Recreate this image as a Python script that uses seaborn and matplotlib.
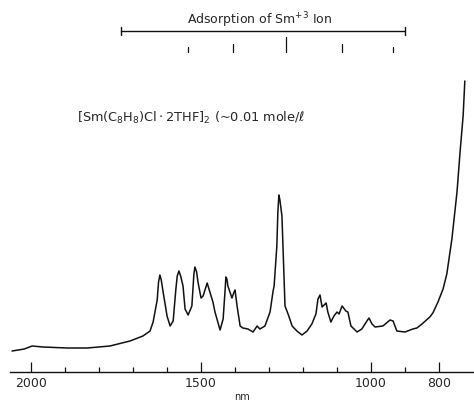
import matplotlib
matplotlib.use("Agg")
import matplotlib.pyplot as plt
import seaborn as sns
import numpy as np
import pandas as pd

# spectrum (wavelength nm, absorbance in arbitrary units)
wavelength = [2056, 2020, 1997, 1965, 1894, 1835, 1768, 1709, 1671, 1650,
              1641, 1629, 1625, 1621, 1617, 1612, 1600, 1591, 1582, 1574,
              1570, 1565, 1560, 1553, 1547, 1538, 1527, 1521, 1518, 1513,
              1509, 1500, 1494, 1482, 1474, 1465, 1459, 1444, 1435, 1429,
              1427, 1424, 1421, 1409, 1403, 1400, 1394, 1385, 1377, 1362,
              1347, 1335, 1327, 1312, 1297, 1288, 1285, 1277, 1274, 1271,
              1268, 1262, 1259, 1253, 1244, 1232, 1218, 1203, 1188, 1174,
              1162, 1156, 1150, 1144, 1132, 1127, 1118, 1109, 1100, 1094,
              1085, 1074, 1068, 1059, 1041, 1027, 1012, 1006, 997, 988,
              965, 944, 935, 924, 900, 877, 865, 850, 827, 818,
              803, 788, 777, 762, 747, 738, 729, 724]
absorbance = [0.21, 0.23, 0.26, 0.25, 0.24, 0.24, 0.26, 0.31, 0.36, 0.41,
              0.50, 0.72, 0.90, 0.97, 0.92, 0.81, 0.56, 0.46, 0.51, 0.83,
              0.96, 1.01, 0.96, 0.86, 0.63, 0.57, 0.66, 0.98, 1.05, 1.00,
              0.90, 0.74, 0.76, 0.89, 0.80, 0.70, 0.60, 0.42, 0.53, 0.83,
              0.95, 0.93, 0.86, 0.74, 0.80, 0.82, 0.66, 0.46, 0.44, 0.43,
              0.40, 0.46, 0.43, 0.46, 0.60, 0.81, 0.86, 1.26, 1.60, 1.77,
              1.72, 1.56, 1.26, 0.66, 0.58, 0.46, 0.41, 0.37, 0.41, 0.48,
              0.58, 0.73, 0.77, 0.65, 0.69, 0.60, 0.50, 0.56, 0.60, 0.58,
              0.66, 0.61, 0.60, 0.46, 0.40, 0.43, 0.51, 0.54, 0.48, 0.45,
              0.46, 0.52, 0.51, 0.41, 0.40, 0.43, 0.44, 0.48, 0.55, 0.59,
              0.70, 0.83, 0.98, 1.33, 1.80, 2.20, 2.56, 2.91]

# Sm+3 absorption markers at the top
sm_range = [1735, 900]
sm_bands = [1538, 1406, 1250, 1085, 935]
sm_band_len = [0.05, 0.08, 0.15, 0.08, 0.05]

major_ticks = [2000, 1500, 1000, 800]
minor_ticks = [1900, 1800, 1700, 1600, 1400, 1300, 1200, 1100, 900]

df = pd.DataFrame({"nm": wavelength, "A": absorbance})

sns.set_style("white")
fig = plt.figure(figsize=(4.74, 4.02), dpi=100)
ax = fig.add_axes([10 / 474, 29 / 402, 464 / 474, 373 / 402])

sns.lineplot(data=df, x="nm", y="A", ax=ax, color="#111111", linewidth=1.1)

ax.set_xlim(2062, 697)
ax.set_ylim(0, 3.73)

for s in ["left", "right", "top"]:
    ax.spines[s].set_visible(False)
ax.spines["bottom"].set_color("#111111")
ax.spines["bottom"].set_linewidth(1.0)

ax.set_yticks([])
ax.set_ylabel("")
ax.set_xticks(major_ticks)
ax.set_xticklabels([str(t) for t in major_ticks], fontsize=9)
ax.set_xticks(minor_ticks, minor=True)
ax.tick_params(axis="x", which="major", direction="in", length=7, width=0.9,
               pad=3, color="#111111", bottom=True)
ax.tick_params(axis="x", which="minor", direction="in", length=3.5, width=0.9,
               color="#111111", bottom=True)
ax.set_xlabel("nm", fontsize=7)
ax.xaxis.set_label_coords(0.5, -0.05)

# top annotation bar
bar_y = 3.41
ax.plot(sm_range, [bar_y, bar_y], color="#111111", lw=1.0)
for x in sm_range:
    ax.plot([x, x], [bar_y - 0.04, bar_y + 0.04], color="#111111", lw=1.0)
for x, ln in zip(sm_bands, sm_band_len):
    ax.plot([x, x], [3.20, 3.20 + ln], color="#111111", lw=0.9)
ax.text(1327, 3.53, r"Adsorption of Sm$^{+3}$ Ion", ha="center", va="center",
        fontsize=9)

ax.text(1865, 2.55,
        r"$\left[\mathrm{Sm(C_8H_8)Cl\cdot 2THF}\right]_2$" + " (~0.01 mole/ℓ",
        ha="left", va="center", fontsize=9.3)

fig.savefig("out.png", dpi=100)
